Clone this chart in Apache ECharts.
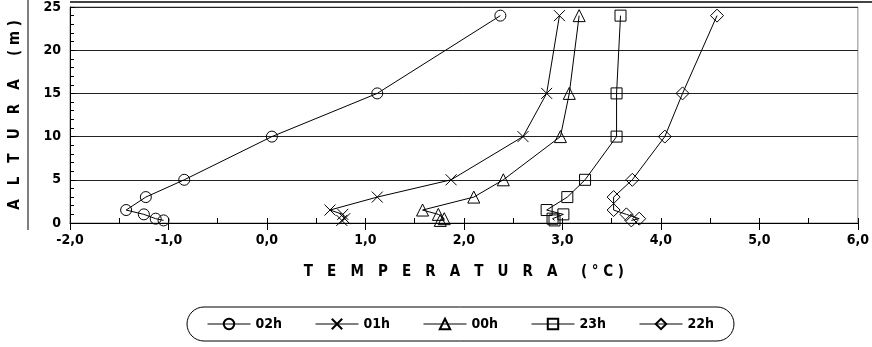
<!DOCTYPE html>
<html>
<head>
<meta charset="utf-8">
<script src="https://cdn.jsdelivr.net/npm/echarts@6/dist/echarts.min.js"></script>
<style>
  html, body { margin: 0; padding: 0; background: #fff; }
  #chart { width: 872px; height: 347px; }
</style>
</head>
<body>
<div id="chart"></div>
<script>
// alturas (m) medidas
var alturas = [24, 15, 10, 5, 3, 1.5, 1, 0.5, 0.3];

// temperaturas (°C) por hora, de 24 m hacia abajo
var t02h = [2.37, 1.12, 0.05, -0.84, -1.23, -1.43, -1.25, -1.13, -1.05];
var t01h = [2.97, 2.84, 2.60, 1.87, 1.12, 0.64, 0.77, 0.79, 0.76];
var t00h = [3.17, 3.07, 2.98, 2.40, 2.10, 1.58, 1.74, 1.80, 1.76];
var t23h = [3.59, 3.55, 3.55, 3.23, 3.05, 2.84, 3.01, 2.90, 2.92];
var t22h = [4.57, 4.22, 4.04, 3.71, 3.52, 3.52, 3.65, 3.78, 3.70];

var nombres = ['02h', '01h', '00h', '23h', '22h'];
var simbolos = ['circle', 'path://M0,0L10,10M10,0L0,10', 'triangle', 'rect', 'diamond'];
var tamanos = [11, 11, 12, 11, 13];

var fuente = '"Liberation Sans Narrow", "DejaVu Sans Condensed", sans-serif';

function pares(temps) {
    return temps.map(function (t, i) { return [t, alturas[i]]; });
}

// separa las letras como en el original
function espaciado(txt, sep) {
    return txt.split('').join(sep);
}

var chart = echarts.init(document.getElementById('chart'));

var series = [t02h, t01h, t00h, t23h, t22h].map(function (temps, k) {
    return {
        name: nombres[k],
        type: 'line',
        data: pares(temps),
        symbol: simbolos[k],
        symbolSize: tamanos[k],
        showAllSymbol: true,
        lineStyle: { color: '#000', width: 1 },
        itemStyle: { color: 'transparent', borderColor: '#000', borderWidth: 1 },
        emphasis: { disabled: true },
        animation: false
    };
});

var option = {
    animation: false,
    grid: {
        left: 69, right: 11, top: 7, bottom: 124,
        show: true, borderColor: '#8c8c8c', borderWidth: 1
    },
    xAxis: [{
        type: 'value',
        min: -2, max: 6, interval: 1,
        name: espaciado('TEMPERATURA', '   ') + '     ' + espaciado('(°C)', ' '),
        nameLocation: 'middle',
        nameGap: 42,
        nameTextStyle: { fontFamily: fuente, fontWeight: 'bold', fontSize: 15, color: '#000' },
        axisLine: { onZero: false, lineStyle: { color: '#000', width: 1 } },
        axisTick: { length: 7, lineStyle: { color: '#000' } },
        axisLabel: {
            fontFamily: fuente, fontWeight: 'bold', fontSize: 14, color: '#000', margin: 10,
            formatter: function (v) { return v.toFixed(1).replace('.', ','); }
        },
        splitLine: { show: false }
    }, {
        type: 'value',
        min: -2, max: 6, interval: 0.5,
        position: 'bottom',
        axisLine: { show: false, onZero: false },
        axisTick: { inside: true, length: 5, lineStyle: { color: '#000' } },
        axisLabel: { show: false },
        splitLine: { show: false }
    }],
    yAxis: {
        type: 'value',
        min: 0, max: 25, interval: 5,
        name: espaciado('ALTURA', '   ') + '     ' + espaciado('(m)', ' '),
        nameLocation: 'middle',
        nameGap: 47,
        nameRotate: 90,
        nameTextStyle: { fontFamily: fuente, fontWeight: 'bold', fontSize: 15, color: '#000' },
        axisLine: { show: true, onZero: false, lineStyle: { color: '#000', width: 1 } },
        axisTick: { show: true, inside: true, length: 5, lineStyle: { color: '#000' } },
        minorTick: { show: true, splitNumber: 5, length: 4, lineStyle: { color: '#000' } },
        axisLabel: { fontFamily: fuente, fontWeight: 'bold', fontSize: 14, color: '#000', margin: 9 },
        splitLine: { show: true, lineStyle: { color: '#222', width: 1 } }
    },
    legend: {
        data: nombres,
        left: 187,
        top: 307,
        padding: [10, 20, 10, 20],
        borderColor: '#000',
        borderWidth: 1,
        borderRadius: 17,
        itemWidth: 43,
        itemHeight: 13,
        itemGap: 33,
        lineStyle: { width: 1, color: '#000' },
        textStyle: { fontFamily: fuente, fontWeight: 'bold', fontSize: 14, color: '#000' }
    },
    graphic: [
        { type: 'line', shape: { x1: 70, y1: 2, x2: 872, y2: 2 }, style: { stroke: '#444', lineWidth: 2 } },
        { type: 'line', shape: { x1: 28, y1: 0, x2: 28, y2: 230 }, style: { stroke: '#000', lineWidth: 1 } }
    ],
    series: series
};

chart.setOption(option);
</script>
</body>
</html>
